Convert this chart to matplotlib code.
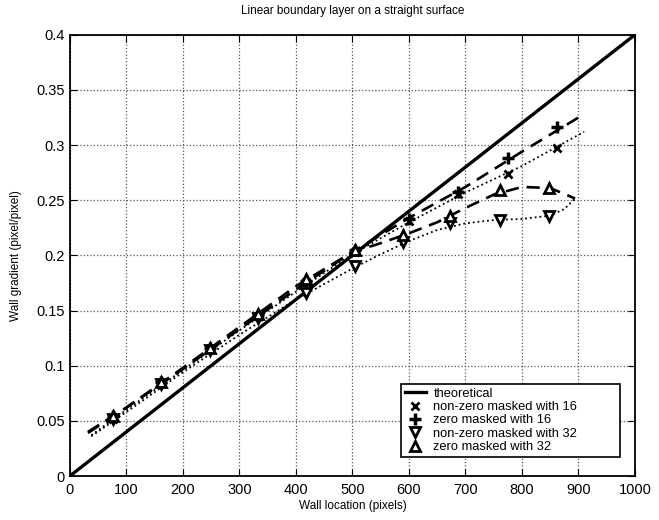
import matplotlib
matplotlib.use('Agg')
import matplotlib.pyplot as plt
import numpy as np

plt.rcParams['font.family'] = ['Liberation Sans', 'DejaVu Sans']

# marker positions (wall location, pixels)
x_base = [76, 162, 248, 333, 418, 504]
x16 = x_base + [600, 687, 775, 862]
x32 = x_base + [590, 673, 761, 847]

# measured wall gradients
nonzero16 = [0.052, 0.084, 0.115, 0.145, 0.176, 0.203, 0.231, 0.256, 0.274, 0.297]
zero16 = [0.054, 0.085, 0.116, 0.146, 0.177, 0.205, 0.233, 0.257, 0.288, 0.316]
nonzero32 = [0.052, 0.083, 0.114, 0.143, 0.166, 0.190, 0.212, 0.229, 0.232, 0.236]
zero32 = [0.054, 0.085, 0.116, 0.147, 0.179, 0.205, 0.218, 0.236, 0.259, 0.261]

# fitted curves
cx16_zero = [32, 100, 200, 300, 400, 500, 600, 700, 800, 910]
cy16_zero = [0.039, 0.062, 0.097, 0.133, 0.169, 0.203, 0.234, 0.262, 0.294, 0.328]
cx16_nz = [38, 100, 200, 300, 400, 500, 600, 700, 800, 910]
cy16_nz = [0.037, 0.060, 0.096, 0.132, 0.167, 0.201, 0.230, 0.257, 0.281, 0.312]
cx32_zero = [32, 100, 200, 300, 400, 500, 550, 600, 650, 700, 750, 800, 850, 894]
cy32_zero = [0.040, 0.062, 0.098, 0.135, 0.172, 0.203, 0.211, 0.220, 0.230, 0.243, 0.255, 0.262, 0.261, 0.2515]
cx32_nz = [38, 100, 200, 300, 400, 500, 550, 600, 650, 700, 750, 800, 850, 875, 894]
cy32_nz = [0.036, 0.058, 0.094, 0.128, 0.160, 0.188, 0.201, 0.213, 0.223, 0.229, 0.232, 0.233, 0.236, 0.242, 0.2515]

theory_x = [0, 1000]
theory_y = [0, 0.4]

fig = plt.figure(figsize=(6.59, 5.2), dpi=100)
ax = fig.add_axes([0.106, 0.0846, 0.8576, 0.8487])

h_th, = ax.plot(theory_x, theory_y, 'k-', lw=2.4)
ax.plot(cx16_nz, cy16_nz, 'k:', lw=1.3)
ax.plot(cx16_zero, cy16_zero, 'k--', lw=1.9, dashes=(5, 3))
ax.plot(cx32_nz, cy32_nz, 'k:', lw=1.3)
ax.plot(cx32_zero, cy32_zero, 'k--', lw=1.9, dashes=(5, 3))

h1, = ax.plot(x16, nonzero16, 'kx', ms=6, mew=2, ls='none')
h2, = ax.plot(x16, zero16, 'k+', ms=9, mew=2.5, ls='none')
h3, = ax.plot(x32, nonzero32, 'kv', ms=7, mew=2, mfc='white', ls='none')
h4, = ax.plot(x32, zero32, 'k^', ms=7, mew=2, mfc='white', ls='none')

ax.set_xlim(0, 1000)
ax.set_ylim(0, 0.4)
ax.set_xticks(np.arange(0, 1001, 100))
ax.set_yticks([0, 0.05, 0.1, 0.15, 0.2, 0.25, 0.3, 0.35, 0.4])
ax.set_yticklabels(['0', '0.05', '0.1', '0.15', '0.2', '0.25', '0.3', '0.35', '0.4'])
ax.tick_params(direction='in', top=True, right=True, labelsize=10.5, length=5)
ax.tick_params(axis='x', pad=5)
ax.grid(True, ls=':', color='#555555', lw=0.9)
for s in ax.spines.values():
    s.set_linewidth(1.3)

ax.set_title('Linear boundary layer on a straight surface', fontsize=8.5, pad=15)
ax.set_xlabel('Wall location (pixels)', fontsize=8.5, labelpad=2)
ax.set_ylabel('Wall gradient (pixel/pixel)', fontsize=8.5, labelpad=10)

leg = ax.legend([h_th, h1, h2, h3, h4],
                ['theoretical', 'non-zero masked with 16', 'zero masked with 16',
                 'non-zero masked with 32', 'zero masked with 32'],
                loc='lower left', bbox_to_anchor=(0.586, 0.043, 0.387, 0.165),
                mode='expand', fontsize=9.3, borderaxespad=0,
                handlelength=1.6, handletextpad=0.6, labelspacing=0.1,
                borderpad=0.3, fancybox=False, framealpha=1, edgecolor='black')
leg.get_frame().set_linewidth(1.2)

fig.savefig('out.png', dpi=100)
